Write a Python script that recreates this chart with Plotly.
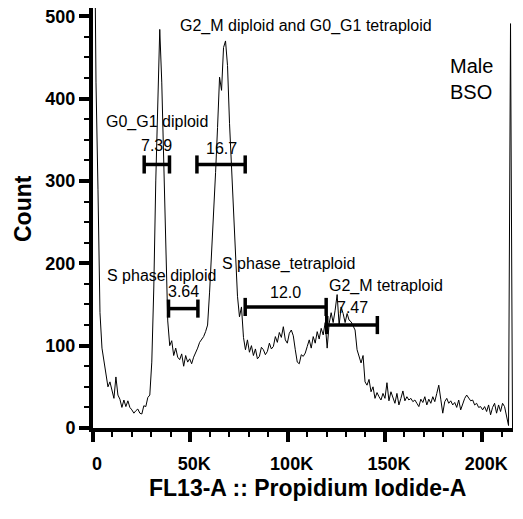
import plotly.graph_objects as go

# ---------------- data ----------------
bin_width = 1024  # channel width of the histogram bins

counts = [
    700, 420, 290, 140, 97, 82, 62, 50, 56, 46,
    36, 62, 40, 35, 25, 34, 26, 33, 25, 22,
    18, 21, 23, 18, 17, 27, 26, 37, 40, 80,
    170, 300, 400, 484, 420, 330, 230, 130, 100, 106,
    88, 97, 86, 83, 90, 75, 88, 80, 84, 78,
    86, 91, 97, 104, 107, 111, 117, 125, 165, 210,
    255, 310, 365, 426, 410, 462, 470, 440, 370, 315,
    265, 220, 160, 135, 147, 110, 95, 107, 92, 100,
    88, 96, 84, 87, 98, 95, 89, 93, 103, 96,
    99, 111, 104, 116, 110, 123, 107, 103, 115, 119,
    112, 95, 80, 78, 89, 87, 91, 99, 107, 97,
    111, 103, 117, 108, 121, 113, 128, 97, 127, 140,
    128, 143, 162, 125, 147, 139, 128, 139, 131, 129,
    123, 119, 95, 87, 79, 88, 56, 52, 59, 44,
    50, 36, 43, 38, 34, 42, 36, 55, 33, 44,
    38, 30, 42, 28, 36, 45, 33, 38, 34, 36,
    32, 34, 30, 26, 35, 31, 38, 28, 35, 30,
    38, 32, 42, 52, 35, 18, 32, 36, 30, 33,
    28, 31, 25, 34, 22, 30, 36, 40, 37, 33,
    34, 28, 30, 25, 26, 22, 26, 20, 28, 16,
    25, 30, 18, 28, 20, 30, 26, 14, 3, 491,
    0,
]

gate_names = ["G0_G1 diploid", "G2_M diploid and G0_G1 tetraploid",
              "S phase diploid", "S phase_tetraploid", "G2_M tetraploid"]
gate_pct = ["7.39", "16.7", "3.64", "12.0", "7.47"]
gate_lo = [26300, 53400, 38800, 78200, 120100]
gate_hi = [39300, 78200, 53900, 119800, 146100]
gate_level = [320, 320, 145, 147, 125]

x_tickvals = [0, 50000, 100000, 150000, 200000]
x_ticktext = ["0", "50K", "100K", "150K", "200K"]
y_tickvals = [0, 100, 200, 300, 400, 500]

sample_label = "Male<br>BSO"

# ---------------- layout helpers ----------------
# label anchors (data units) for gate names and percentages
name_x = [32700, 109300, 35100, 100600, 150700]
name_y = [371, 488, 184.6, 199, 172.4]
pct_y = [342.7, 339.7, 166.1, 164.5, 146.3]

xs = [(i + 0.5) * bin_width for i in range(len(counts))]

FONT = "Arial, Liberation Sans, sans-serif"

fig = go.Figure()
fig.add_trace(go.Scatter(x=xs, y=counts, mode="lines",
                         line=dict(color="black", width=1),
                         hoverinfo="skip", showlegend=False))

shapes = []
annotations = []
cap = 11
for i in range(len(gate_names)):
    lo, hi, lv = gate_lo[i], gate_hi[i], gate_level[i]
    shapes.append(dict(type="line", xref="x", yref="y", x0=lo, x1=hi, y0=lv, y1=lv,
                       line=dict(color="black", width=3.5)))
    for xx in (lo, hi):
        shapes.append(dict(type="line", xref="x", yref="y", x0=xx, x1=xx,
                           y0=lv - cap, y1=lv + cap,
                           line=dict(color="black", width=3.5)))
    annotations.append(dict(x=(lo + hi) / 2, y=pct_y[i], xref="x", yref="y",
                            xanchor="center", yanchor="middle",
                            text=gate_pct[i], showarrow=False,
                            font=dict(family=FONT, size=16, color="black")))
    annotations.append(dict(x=name_x[i], y=name_y[i], xref="x", yref="y",
                            xanchor="center", yanchor="middle",
                            text=gate_names[i], showarrow=False,
                            font=dict(family=FONT, size=16, color="black")))

annotations.append(dict(x=182200, y=424, xref="x", yref="y", text=sample_label,
                        xanchor="left", yanchor="middle", align="left", showarrow=False,
                        font=dict(family=FONT, size=20, color="black")))
annotations.append(dict(x=0.5107, y=-0.143, xref="paper", yref="paper",
                        xanchor="center", yanchor="middle",
                        text="<b>FL13-A :: Propidium Iodide-A</b>", showarrow=False,
                        font=dict(family=FONT, size=23, color="black")))
annotations.append(dict(x=-0.1667, y=0.5238, xref="paper", yref="paper",
                        xanchor="center", yanchor="middle",
                        text="<b>Count</b>", textangle=-90, showarrow=False,
                        font=dict(family=FONT, size=23, color="black")))

fig.update_layout(
    width=523, height=519,
    margin=dict(l=93, r=10, t=8, b=91),
    paper_bgcolor="white", plot_bgcolor="white",
    shapes=shapes, annotations=annotations,
    showlegend=False,
    xaxis=dict(range=[0, 215800], tickmode="array", tickvals=x_tickvals,
               ticktext=["<b>%s</b>" % t for t in x_ticktext],
               showline=True, linewidth=4, linecolor="black", mirror=False,
               ticks="outside", ticklen=10, tickwidth=4, tickcolor="black",
               showgrid=False, zeroline=False, ticklabelshift=4, ticklabelstandoff=6,
               tickfont=dict(family=FONT, size=18, color="black"),
               minor=dict(dtick=10000, tick0=0, ticks="outside", ticklen=5, tickwidth=2,
                          tickcolor="black", showgrid=False)),
    yaxis=dict(range=[0, 510], tickmode="array", tickvals=y_tickvals,
               ticktext=["<b>%d</b>" % v for v in y_tickvals],
               showline=True, linewidth=4, linecolor="black",
               ticks="outside", ticklen=10, tickwidth=4, tickcolor="black",
               showgrid=False, zeroline=False,
               tickfont=dict(family=FONT, size=18, color="black"),
               minor=dict(dtick=25, tick0=0, ticks="outside", ticklen=5, tickwidth=2,
                          tickcolor="black", showgrid=False)),
)

fig.write_html("out.html")
